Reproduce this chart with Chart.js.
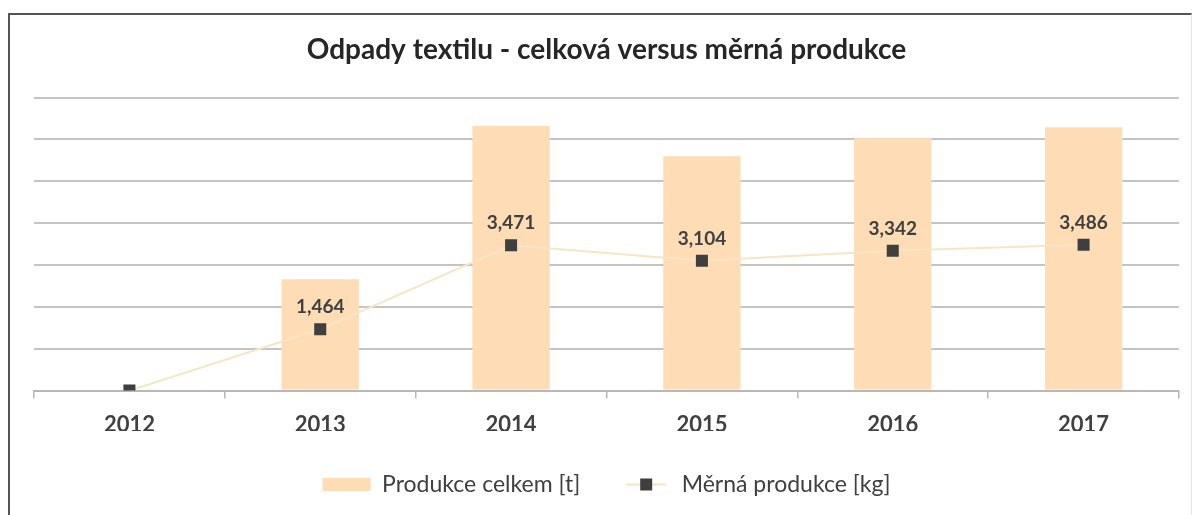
<!DOCTYPE html>
<html>
<head>
<meta charset="utf-8">
<script src="https://cdn.jsdelivr.net/npm/chart.js@4.4.1/dist/chart.umd.min.js"></script>
<style>
  html, body { margin: 0; padding: 0; background: #fff; }
  #frame {
    position: absolute; left: 8px; top: 13px; width: 1184px; height: 520px;
    border-left: 2px solid #555; border-top: 2px solid #555; border-right: 1px solid #e4e4e4;
    box-sizing: border-box;
  }
  #wrap { position: absolute; left: 0; top: 0; width: 1194px; height: 515px; }
</style>
</head>
<body>
<div id="frame"></div>
<div id="wrap"><canvas id="chart" width="1194" height="515"></canvas></div>
<script>
// Data
const years = ['2012', '2013', '2014', '2015', '2016', '2017'];
const totalProduction = [0, 13300, 31600, 28000, 30150, 31450];   // Produkce celkem [t]
const specificProduction = [0, 1.464, 3.471, 3.104, 3.342, 3.486]; // Měrná produkce [kg]
const specificLabels = ['', '1,464', '3,471', '3,104', '3,342', '3,486'];

const FONT = 'Lato, "Open Sans", sans-serif';
const TEXT = '#404040';

// legend icon for the line series: short line with a square marker
const lineIcon = document.createElement('canvas');
lineIcon.width = 48; lineIcon.height = 14;
(function () {
    const c = lineIcon.getContext('2d');
    c.strokeStyle = '#f3e4c2';
    c.lineWidth = 2;
    c.beginPath(); c.moveTo(4, 7); c.lineTo(44, 7); c.stroke();
    c.fillStyle = '#3f3f3f';
    c.fillRect(18, 1, 12, 12);
})();

// value labels above the line markers
const pointLabels = {
    id: 'pointLabels',
    afterDatasetsDraw(chart) {
        const meta = chart.getDatasetMeta(1);
        const ctx = chart.ctx;
        ctx.save();
        ctx.font = 'bold 19px ' + FONT;
        ctx.fillStyle = TEXT;
        ctx.textAlign = 'center';
        ctx.textBaseline = 'middle';
        meta.data.forEach((pt, i) => {
            if (!specificLabels[i]) return;
            ctx.fillText(specificLabels[i], pt.x, pt.y - 22);
        });
        ctx.restore();
    }
};

const ctx = document.getElementById('chart').getContext('2d');
new Chart(ctx, {
    data: {
        labels: years,
        datasets: [
            {
                type: 'bar',
                label: 'Produkce celkem [t]',
                data: totalProduction,
                backgroundColor: '#fddcb6',
                borderWidth: 0,
                barPercentage: 0.405,
                categoryPercentage: 1,
                yAxisID: 'y',
                order: 2
            },
            {
                type: 'line',
                label: 'Měrná produkce [kg]',
                data: specificProduction,
                borderColor: '#f5e6c4',
                borderWidth: 2,
                pointStyle: 'rect',
                pointRadius: 8.5,
                pointBackgroundColor: '#3f3f3f',
                pointBorderColor: '#3f3f3f',
                pointBorderWidth: 0,
                tension: 0,
                yAxisID: 'y1',
                order: 1
            }
        ]
    },
    options: {
        responsive: false,
        animation: false,
        layout: { padding: { left: 34, right: 15, top: 20, bottom: 9 } },
        plugins: {
            title: {
                display: true,
                text: 'Odpady textilu - celková versus měrná produkce',
                color: '#262626',
                font: { family: FONT, size: 28, weight: 'bold' },
                padding: { top: 13, bottom: 31 }
            },
            legend: {
                position: 'bottom',
                labels: {
                    color: TEXT,
                    font: { family: FONT, size: 23 },
                    usePointStyle: true,
                    pointStyleWidth: 48,
                    boxHeight: 13,
                    padding: 42,
                    generateLabels(chart) {
                        return [
                            { text: 'Produkce celkem [t]', fillStyle: '#fddcb6', strokeStyle: '#fddcb6',
                              lineWidth: 0, pointStyle: 'rect', fontColor: TEXT, datasetIndex: 0 },
                            { text: 'Měrná produkce [kg]', fillStyle: '#3f3f3f', strokeStyle: '#3f3f3f',
                              lineWidth: 0, pointStyle: lineIcon, fontColor: TEXT, datasetIndex: 1 }
                        ];
                    }
                }
            },
            tooltip: { enabled: false }
        },
        scales: {
            x: {
                offset: true,
                afterFit(scale) { scale.height -= 20; },
                grid: {
                    offset: true,
                    drawOnChartArea: false,
                    drawTicks: true,
                    tickLength: 8,
                    color: '#b8b8b8',
                    lineWidth: 1.5
                },
                border: { display: true, color: '#b8b8b8', width: 2 },
                ticks: {
                    color: TEXT,
                    font: { family: FONT, size: 22, weight: 'bold' },
                    padding: 13
                }
            },
            y: {
                position: 'left',
                min: 0,
                max: 35000,
                ticks: { display: false, stepSize: 5000 },
                grid: { color: '#c4c4c4', lineWidth: 2, drawTicks: false },
                border: { display: false }
            },
            y1: {
                position: 'right',
                display: false,
                min: 0,
                max: 7
            }
        }
    },
    plugins: [pointLabels]
});
</script>
</body>
</html>
